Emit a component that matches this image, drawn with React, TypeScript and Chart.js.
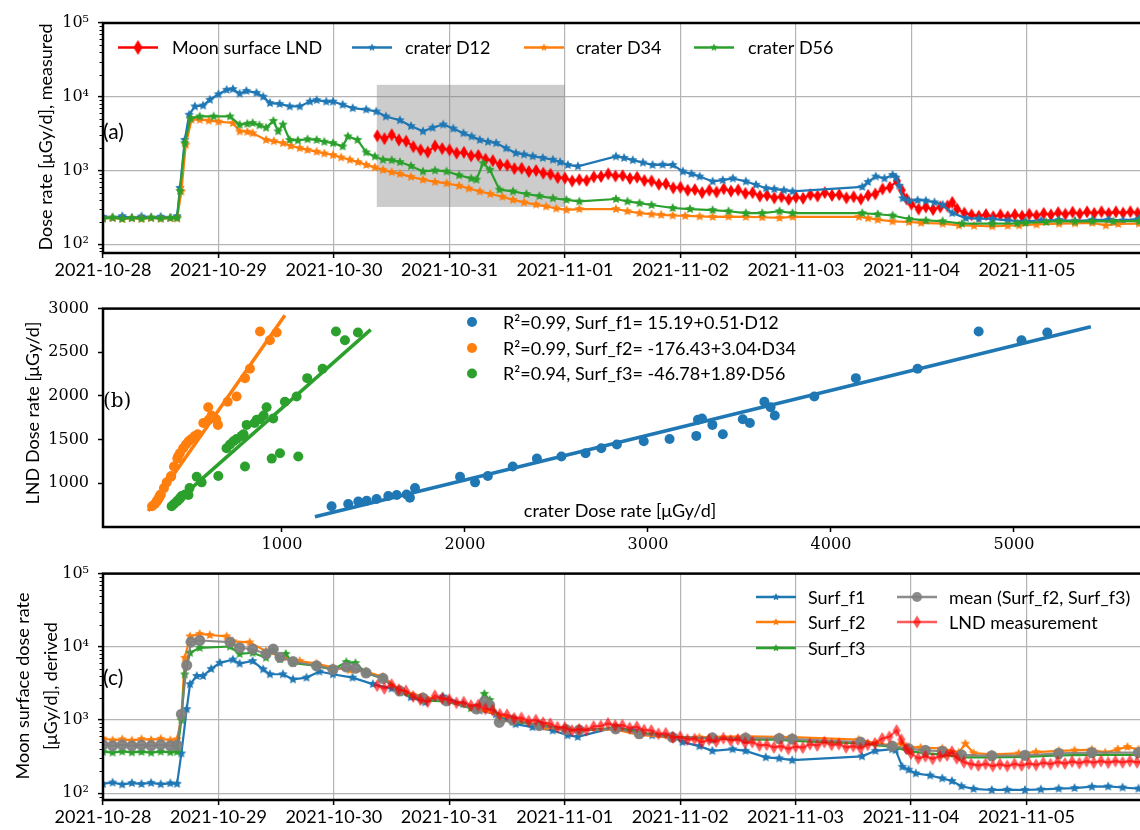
import React, { useEffect, useRef } from 'react';
import { Chart, registerables } from 'chart.js';

Chart.register(...registerables);

// ---------------- tick labels ----------------
const DATE_LABELS = ['2021-10-28', '2021-10-29', '2021-10-30', '2021-10-31', '2021-11-01', '2021-11-02', '2021-11-03', '2021-11-04', '2021-11-05'];
const DATE_TICK_HOURS = [0, 24, 48, 72, 96, 120, 144, 168, 192];
const LOG_TICKS = [100, 1000, 10000, 100000];
const LOG_TICK_LABELS = ['10²', '10³', '10⁴', '10⁵'];
const B_X_TICKS = [1000, 2000, 3000, 4000, 5000];
const B_Y_TICKS = [1000, 1500, 2000, 2500, 3000];

// ---------------- panel (a): measured dose rates [hours since 2021-10-28 00:00, µGy/d] ----------------
const LND_MEAS: [number, number][] = [
  [57, 2950], [58.5, 2700], [60, 3050], [61.5, 2600], [63, 2500], [64.5, 2100], [66, 1900], [67.5, 1780], [69, 2150], [70.5, 1980],
  [72, 1900], [73.5, 1720], [75, 1760], [76.5, 1580], [78, 1600], [79.5, 1420], [81, 1360], [82.5, 1200], [84, 1180], [85.5, 1060],
  [87, 1070], [88.5, 970], [90, 1000], [91.5, 920], [93, 890], [94.5, 800], [96, 790], [97.5, 720], [99, 750], [100.5, 730],
  [102, 820], [103.5, 830], [105, 900], [106.5, 840], [108, 850], [109.5, 780], [111, 810], [112.5, 730], [114, 720], [115.5, 650],
  [117, 660], [118.5, 580], [120, 590], [121.5, 540], [123, 550], [124.5, 500], [126, 540], [127.5, 510], [129, 565], [130.5, 525],
  [132, 545], [133.5, 490], [135, 500], [136.5, 450], [138, 460], [139.5, 425], [141, 440], [142.5, 405], [144, 435], [145.5, 420],
  [147, 470], [148.5, 450], [150, 500], [151.5, 460], [153, 470], [154.5, 425], [156, 440], [157.5, 410], [159, 460], [160.5, 480],
  [162, 560], [163.5, 590], [165, 720], [166, 540], [167, 410], [168, 350], [169.5, 300], [171, 320], [172.5, 295], [174, 320],
  [175.5, 330], [176.5, 370], [177.5, 300], [179, 265], [180.5, 250], [182, 240], [183.5, 252], [185, 236], [186.5, 250], [188, 236],
  [189.5, 252], [191, 240], [192.5, 255], [194, 244], [195.5, 262], [197, 250], [198.5, 268], [200, 255], [201.5, 272], [203, 258],
  [204.5, 275], [206, 262], [207.5, 276], [209, 262], [210.5, 275], [212, 264], [213.5, 276], [215, 265], [216.5, 274],
];
const D12_MEAS: [number, number][] = [
  [0, 235], [2, 228], [4, 240], [6, 226], [8, 238], [10, 230], [12, 236], [14, 228], [15.4, 240], [16, 580], [17, 2600], [17.9, 5700],
  [19.1, 7400], [20.8, 7600], [22.2, 9100], [24, 10800], [25.7, 12400], [27, 12700], [28.4, 11000], [29.8, 12000], [31.9, 11300],
  [33.3, 10000], [34.7, 8200], [36.7, 8000], [38.8, 7400], [40.9, 7400], [43, 8600], [44.4, 9000], [46.4, 8600], [47.8, 8600],
  [49.8, 7800], [51.9, 7000], [54.7, 6700], [56.8, 6300], [58.8, 5400], [61.7, 4800], [64, 4000], [66.5, 3400], [68.5, 3800],
  [70.7, 4200], [72.8, 3700], [74.9, 3200], [76.6, 2900], [78.3, 2600], [80, 2450], [81.7, 2350], [83.8, 2000], [85.8, 1720],
  [87.5, 1650], [89.3, 1560], [91.4, 1480], [93.5, 1400], [95, 1300], [96.6, 1190], [98.7, 1140], [106.6, 1550], [108.3, 1480],
  [110.1, 1380], [112.2, 1280], [114.2, 1190], [116.3, 1200], [118.4, 1190], [120.5, 970], [122.3, 900], [124, 830], [126.7, 710],
  [128.8, 740], [130.9, 780], [133.6, 710], [135.7, 640], [137.8, 575], [139.5, 560], [141.5, 540], [143.3, 520], [157.8, 600],
  [159, 700], [160.6, 830], [162.4, 780], [164.1, 870], [164.8, 800], [165.5, 620], [166.2, 420], [167.5, 390], [169.3, 395],
  [171, 390], [172.8, 370], [174.5, 343], [176.5, 264], [179.3, 226], [182, 222], [184.8, 220], [188, 210], [191.7, 204], [195, 210],
  [198.7, 213], [202, 208], [205.6, 213], [209, 215], [212, 210], [215.3, 220],
];
const D34_MEAS: [number, number][] = [
  [0, 222], [2, 228], [4, 220], [6, 226], [8, 221], [10, 227], [12, 222], [14, 226], [15.4, 224], [16.3, 520], [17.2, 2240],
  [18.4, 4880], [20.1, 4880], [22, 4750], [24, 4600], [27, 4400], [28.4, 3390], [30, 3350], [31.1, 3200], [33.9, 2600], [35.5, 2500],
  [37.4, 2350], [39, 2150], [40.9, 2010], [42.5, 1900], [44.4, 1800], [46, 1700], [47.8, 1620], [49.5, 1500], [51.3, 1400], [53, 1300],
  [54.7, 1190], [56.5, 1100], [58.2, 1020], [60, 950], [61.7, 900], [64, 820], [66.5, 750], [69, 700], [71.4, 670], [74, 620],
  [76, 570], [78.3, 520], [80.5, 480], [83, 440], [85.2, 400], [87.5, 370], [90, 345], [92.1, 325], [94.2, 305], [96.3, 293],
  [99, 300], [106.6, 300], [109, 280], [111.5, 264], [114, 255], [116, 250], [118.4, 245], [121, 242], [124, 238], [126.7, 235],
  [130, 237], [133.6, 235], [137, 232], [140.6, 228], [143.3, 235], [157.1, 235], [159, 225], [161, 215], [164.1, 204], [167.5, 200],
  [170, 195], [174.5, 190], [177.9, 180], [181, 178], [184.8, 175], [188, 178], [190.4, 180], [194, 185], [198.7, 190], [202, 192],
  [205.6, 195], [208.4, 180], [211, 188], [215.3, 190],
];
const D56_MEAS: [number, number][] = [
  [0, 224], [2, 230], [4, 221], [6, 228], [8, 222], [10, 229], [12, 223], [14, 228], [15.4, 226], [16, 530], [17, 2350], [18.2, 5100],
  [20.1, 5400], [23, 5400], [26.4, 5400], [28.4, 4170], [30, 4300], [31.1, 4400], [32.5, 4100], [33.9, 3800], [35.4, 4700],
  [36.4, 3400], [37.4, 4200], [38.8, 2600], [40.5, 2550], [42.5, 2650], [44.4, 2600], [46, 2450], [47.8, 2350], [49.8, 2120],
  [50.9, 2900], [52.9, 2600], [54.7, 1760], [56.5, 1550], [58.2, 1400], [60, 1380], [61.7, 1300], [64, 1150], [66.5, 970], [69, 1000],
  [71.4, 970], [74, 860], [76.5, 780], [77.6, 750], [79, 1260], [80.4, 1020], [82.4, 550], [85.2, 520], [88, 480], [90.7, 450],
  [93.5, 420], [96.3, 400], [99, 380], [106.6, 410], [109, 380], [111.5, 360], [114, 340], [118.4, 310], [122, 300], [126.7, 290],
  [130, 280], [133.6, 264], [137, 264], [140.6, 280], [143.3, 264], [157.8, 264], [161, 255], [164.1, 245], [167.5, 220], [171, 210],
  [174.5, 205], [178.5, 190], [184.8, 190], [190, 192], [191.7, 195], [196, 200], [198.7, 205], [202, 203], [205.6, 205], [210, 204],
  [215.3, 205],
];
const BOX_HOURS = [56.9, 96];
const BOX_DOSE = [320, 14500];

// ---------------- panel (b): LND vs crater samples ----------------
const LND_SAMPLES = [738, 763, 792, 800, 821, 854, 866, 873, 836, 945, 1076, 1011, 1084, 1192, 1283, 1308, 1344, 1402, 1445, 1481, 1507, 1543, 1727, 1741, 1669, 1561, 1734, 1691, 1933, 1871, 1777, 1994, 2204, 2312, 2738, 2637, 2727];
const D12_SAMPLES = [1271, 1362, 1417, 1463, 1517, 1581, 1627, 1681, 1699, 1727, 1973, 2055, 2125, 2261, 2393, 2527, 2659, 2745, 2830, 2977, 3118, 3264, 3273, 3295, 3352, 3409, 3518, 3557, 3636, 3670, 3693, 3909, 4136, 4473, 4807, 5041, 5182];
const D34_SAMPLES = [290, 305, 315, 318, 325, 333, 335, 338, 328, 355, 393, 370, 395, 410, 428, 432, 442, 460, 475, 490, 505, 525, 600, 610, 650, 540, 640, 570, 703, 597, 615, 752, 798, 825, 880, 934, 971];
const D56_SAMPLES = [397, 410, 425, 430, 440, 452, 489, 470, 445, 495, 534, 561, 652, 798, 944, 1089, 989, 697, 716, 735, 752, 780, 862, 952, 807, 790, 880, 850, 1016, 916, 900, 1080, 1138, 1222, 1295, 1344, 1415];
const FIT1_X = [1180, 5420];
const FIT1_Y = [617, 2792];
const FIT2_X = [269, 1016];
const FIT2_Y = [683, 2923];
const FIT3_X = [388, 1485];
const FIT3_Y = [727, 2760];
const FIT_LABELS = [
  'R²=0.99, Surf_f1= 15.19+0.51·D12',
  'R²=0.99, Surf_f2= -176.43+3.04·D34',
  'R²=0.94, Surf_f3= -46.78+1.89·D56',
];

// ---------------- panel (c): derived surface dose rates ----------------
const SURF_F1: [number, number][] = [
  [0, 135], [2, 140], [4, 132], [6, 138], [8, 134], [10, 139], [12, 133], [14, 137], [15.4, 135], [16.3, 350], [17.4, 1410],
  [18.1, 3090], [19.5, 4000], [20.8, 4000], [22.5, 5000], [24.3, 6050], [27, 6700], [28.4, 5900], [31.1, 6400], [33.3, 4940],
  [34.7, 4220], [37.4, 4220], [39.5, 3600], [42.3, 3800], [45, 4600], [47.8, 4220], [51.9, 3800], [56.1, 3100], [60, 2700],
  [64, 2050], [67, 1750], [70.7, 2100], [74.9, 1650], [78.3, 1350], [81.7, 1200], [85.8, 880], [89.3, 800], [93.5, 720], [96.6, 620],
  [98.7, 590], [106.6, 800], [110.1, 720], [114.2, 620], [118.4, 610], [120.5, 500], [124, 440], [126.7, 380], [130.9, 400],
  [133.6, 380], [137.8, 310], [140.6, 300], [143.3, 283], [157.8, 320], [160.6, 380], [164.1, 400], [164.8, 390], [166.2, 230],
  [167.5, 210], [169, 187], [172, 175], [174.5, 160], [176.5, 147], [178.5, 125], [181, 115], [184.8, 111], [188, 112], [191.7, 111],
  [195, 113], [198.7, 116], [202, 118], [205.6, 123], [209, 124], [212, 120], [215.3, 116],
];
const SURF_F2: [number, number][] = [
  [0, 560], [2, 530], [4, 545], [6, 525], [8, 550], [10, 535], [12, 555], [14, 530], [15.4, 545], [16.3, 1100], [17, 7080],
  [18.1, 13900], [20.1, 15000], [22.2, 14500], [25.7, 13900], [27, 11900], [30.5, 11500], [33.9, 8700], [37.4, 7200], [40.9, 6400],
  [44.4, 5900], [47.8, 5200], [51.3, 4800], [54.7, 4600], [58.2, 3900], [61.7, 2600], [66.5, 2100], [71.4, 1860], [78.3, 1400],
  [85.2, 1040], [92.1, 810], [96.3, 715], [99, 740], [106.6, 740], [111.5, 625], [118.4, 570], [124, 580], [126.7, 590],
  [133.6, 600], [140.6, 590], [143.3, 585], [157.1, 540], [161, 480], [164.1, 452], [166, 475], [167.5, 430], [170, 420],
  [174.5, 410], [177.9, 360], [179.3, 475], [181, 355], [184.8, 340], [190.4, 350], [194, 365], [198.7, 380], [202, 385],
  [205.6, 395], [208.4, 360], [211, 400], [213, 430], [215.3, 395],
];
const SURF_F3: [number, number][] = [
  [0, 370], [2, 360], [4, 372], [6, 362], [8, 368], [10, 359], [12, 371], [14, 363], [15.4, 368], [16.3, 1000], [17, 4200],
  [18.1, 8300], [20.1, 9700], [26.4, 10100], [28.4, 8000], [31.1, 8300], [33.9, 7100], [35.4, 9000], [36.8, 6800], [38, 8000],
  [39.5, 6000], [44.4, 5500], [47.8, 4900], [50.6, 6200], [52.5, 6000], [54.7, 4400], [58.2, 3700], [61.7, 2400], [66.5, 1850],
  [71.4, 1800], [76.5, 1450], [77.6, 1400], [79.3, 2280], [80.4, 1880], [82.4, 1000], [85.2, 950], [90.7, 860], [96.3, 760],
  [99, 720], [106.6, 780], [111.5, 680], [118.4, 590], [126.7, 560], [133.6, 540], [140.6, 540], [143.3, 520], [157.8, 480],
  [164.1, 430], [167.5, 380], [171, 350], [174.5, 340], [178.5, 310], [184.8, 310], [191.7, 315], [198.7, 330], [205.6, 335],
  [215.3, 335],
];
const SURF_MEAN: [number, number][] = [
  [0, 460], [2, 445], [4, 458], [6, 444], [8, 455], [10, 447], [12, 459], [14, 446], [15.4, 452], [16.3, 1200], [17.4, 5600],
  [18.3, 11600], [20.1, 12200], [26.4, 11600], [28.4, 9700], [31.1, 9300], [33.9, 8000], [35.4, 9300], [36.8, 7200], [39.5, 6300],
  [44.4, 5500], [47.8, 4900], [50.6, 5300], [52.5, 5100], [54.7, 4400], [58.2, 3700], [61.7, 2500], [66.5, 2000], [71.4, 1830],
  [77.6, 1420], [79.3, 1800], [80.4, 1600], [82.4, 930], [85.2, 1000], [90.7, 840], [96.3, 740], [99, 730], [106.6, 760],
  [111.5, 650], [118.4, 580], [126.7, 570], [133.6, 565], [140.6, 560], [143.3, 550], [157.5, 500], [164.1, 440], [167.5, 405],
  [171, 385], [174.5, 375], [178.5, 335], [184.8, 325], [191.7, 330], [198.7, 350], [205.6, 360], [215.3, 360],
];

// ---------------- style ----------------
const SANS = 'Lato, "DejaVu Sans", sans-serif';
const SERIF = '"DejaVu Serif", serif';
const BLUE = '#1f77b4';
const ORANGE = '#ff7f0e';
const GREEN = '#2ca02c';
const RED = '#ff0000';
const RED_A = 'rgba(255,0,0,0.65)';
const GRAY = 'rgba(128,128,128,0.9)';
const GRID = '#b4b4b4';

function starMarker(color: string, r: number) {
  const s = Math.ceil(r) * 2 + 2;
  const c = document.createElement('canvas');
  c.width = s; c.height = s;
  const g = c.getContext('2d')!;
  g.fillStyle = color;
  g.beginPath();
  for (let i = 0; i < 10; i++) {
    const ang = -Math.PI / 2 + (i * Math.PI) / 5;
    const rr = i % 2 === 0 ? r : r * 0.48;
    g.lineTo(s / 2 + rr * Math.cos(ang), s / 2 + rr * Math.sin(ang));
  }
  g.closePath();
  g.fill();
  return c;
}

function diamondMarker(color: string, w: number, h: number) {
  const cw = Math.ceil(w) + 2, ch = Math.ceil(h) + 2;
  const c = document.createElement('canvas');
  c.width = cw; c.height = ch;
  const g = c.getContext('2d')!;
  g.fillStyle = color;
  g.beginPath();
  g.moveTo(cw / 2, ch / 2 - h / 2);
  g.lineTo(cw / 2 + w / 2, ch / 2);
  g.lineTo(cw / 2, ch / 2 + h / 2);
  g.lineTo(cw / 2 - w / 2, ch / 2);
  g.closePath();
  g.fill();
  return c;
}

const toXY = (arr: [number, number][]) => arr.map(([x, y]) => ({ x, y }));

function lineSet(label: string, arr: [number, number][], color: string, marker: any, order: number, extra: any = {}) {
  return {
    label,
    data: toXY(arr),
    borderColor: color,
    backgroundColor: color,
    borderWidth: 2.2,
    pointStyle: marker,
    pointRadius: 4,
    tension: 0,
    order,
    ...extra,
  };
}

function dateXScale(height: number) {
  return {
    type: 'linear',
    min: 0,
    max: 216.3,
    afterBuildTicks: (s: any) => { s.ticks = DATE_TICK_HOURS.map((v) => ({ value: v })); },
    afterFit: (s: any) => { s.height = height; },
    ticks: {
      autoSkip: false,
      maxRotation: 0,
      padding: 1,
      color: '#000',
      font: { family: SANS, size: 18 },
      callback: (v: number) => { const i = DATE_TICK_HOURS.indexOf(v); return i >= 0 ? DATE_LABELS[i] : ''; },
    },
    grid: { color: GRID, lineWidth: 1.2, tickColor: '#000', tickLength: 5, tickWidth: 1.5 },
    border: { display: false },
  };
}

function logYScale(min: number) {
  return {
    type: 'logarithmic',
    min,
    max: 100000,
    afterBuildTicks: (s: any) => { s.ticks = LOG_TICKS.map((v) => ({ value: v, major: true })); },
    afterFit: (s: any) => { s.width = 103; },
    ticks: {
      autoSkip: false,
      padding: 9,
      color: '#000',
      font: { family: SERIF, size: 16 },
      callback: (v: number) => { const i = LOG_TICKS.indexOf(v); return i >= 0 ? LOG_TICK_LABELS[i] : ''; },
    },
    grid: { color: GRID, lineWidth: 1.2, tickColor: '#000', tickLength: 5, tickWidth: 1.5 },
    border: { display: false },
  };
}

function decorPlugin(opt: any) {
  return {
    id: 'decor',
    beforeDatasetsDraw(chart: any) {
      if (!opt.box) return;
      const { ctx, scales } = chart;
      const x0 = scales.x.getPixelForValue(opt.box.x[0]);
      const x1 = scales.x.getPixelForValue(opt.box.x[1]);
      const y0 = scales.y.getPixelForValue(opt.box.y[1]);
      const y1 = scales.y.getPixelForValue(opt.box.y[0]);
      ctx.save();
      ctx.fillStyle = 'rgba(128,128,128,0.4)';
      ctx.fillRect(x0, y0, x1 - x0, y1 - y0);
      ctx.restore();
    },
    afterDraw(chart: any) {
      const { ctx, chartArea: a, scales } = chart;
      ctx.save();
      if (opt.logMinor) {
        const y = scales.y;
        ctx.strokeStyle = '#000';
        ctx.lineWidth = 1;
        for (let d = 10; d < 100000; d *= 10) {
          for (let k = 2; k <= 9; k++) {
            const v = d * k;
            if (v < y.min || v > y.max) continue;
            const py = Math.round(y.getPixelForValue(v)) + 0.5;
            ctx.beginPath();
            ctx.moveTo(a.left - 3.5, py);
            ctx.lineTo(a.left, py);
            ctx.stroke();
          }
        }
      }
      ctx.strokeStyle = '#000';
      ctx.lineWidth = 2.5;
      ctx.strokeRect(a.left, a.top, a.right - a.left, a.bottom - a.top);

      ctx.fillStyle = '#000';
      ctx.textAlign = 'center';
      ctx.textBaseline = 'middle';
      ctx.font = `18px ${SANS}`;
      opt.yTitle.lines.forEach((t: string, i: number) => {
        ctx.save();
        ctx.translate(opt.yTitle.x[i], opt.yTitle.y);
        ctx.rotate(-Math.PI / 2);
        ctx.fillText(t, 0, 0);
        ctx.restore();
      });
      if (opt.xInside) {
        ctx.font = `18px ${SANS}`;
        ctx.fillText(opt.xInside.text, opt.xInside.x, opt.xInside.y);
      }
      ctx.font = opt.panel.font;
      ctx.textAlign = 'left';
      ctx.fillText(opt.panel.text, opt.panel.x, opt.panel.y);

      ctx.font = `18px ${SANS}`;
      opt.legend.forEach((it: any) => {
        const cx = it.sx + 20;
        if (it.line) {
          ctx.strokeStyle = it.color;
          ctx.lineWidth = 2.5;
          ctx.beginPath();
          ctx.moveTo(it.sx, it.y);
          ctx.lineTo(it.sx + 40, it.y);
          ctx.stroke();
        }
        if (it.circle) {
          ctx.fillStyle = it.color;
          ctx.beginPath();
          ctx.arc(cx, it.y, it.circle, 0, Math.PI * 2);
          ctx.fill();
        } else if (it.marker) {
          ctx.drawImage(it.marker, cx - it.marker.width / 2, it.y - it.marker.height / 2);
        }
        ctx.fillStyle = '#000';
        ctx.textAlign = 'left';
        ctx.fillText(it.label, it.tx, it.y + 1);
      });
      ctx.restore();
    },
  };
}

const W = 1150;
const H_A = 290, H_B = 265, H_C = 275;
const TOP_B = 290, TOP_C = 555;

export default function App() {
  const refA = useRef<HTMLCanvasElement>(null);
  const refB = useRef<HTMLCanvasElement>(null);
  const refC = useRef<HTMLCanvasElement>(null);

  useEffect(() => {
    const starB = starMarker(BLUE, 5), starO = starMarker(ORANGE, 5), starG = starMarker(GREEN, 5);
    const legB = starMarker(BLUE, 4), legO = starMarker(ORANGE, 4), legG = starMarker(GREEN, 4);
    const dRed = diamondMarker(RED, 8, 13), dRedA = diamondMarker(RED_A, 8, 13);
    const dRedLeg = diamondMarker(RED, 9, 15), dRedALeg = diamondMarker(RED_A, 8, 13);

    const common = { animation: false, responsive: false, maintainAspectRatio: false, events: [] as any[] };

    const chartA = new Chart(refA.current!, {
      type: 'line',
      data: {
        datasets: [
          lineSet('Moon surface LND', LND_MEAS, RED, dRed, 4),
          lineSet('crater D12', D12_MEAS, BLUE, starB, 3),
          lineSet('crater D34', D34_MEAS, ORANGE, starO, 2),
          lineSet('crater D56', D56_MEAS, GREEN, starG, 1),
        ] as any,
      },
      options: {
        ...common,
        layout: { padding: { top: 23, right: 5, left: 0, bottom: 0 } },
        plugins: { legend: { display: false }, tooltip: { enabled: false } },
        scales: { x: dateXScale(H_A - 253), y: logYScale(76) } as any,
      } as any,
      plugins: [decorPlugin({
        logMinor: true,
        box: { x: BOX_HOURS, y: BOX_DOSE },
        yTitle: { lines: ['Dose rate [μGy/d], measured'], x: [46], y: 137 },
        panel: { text: '(a)', x: 103, y: 132, font: `21px ${SANS}` },
        legend: [
          { label: 'Moon surface LND', color: RED, marker: dRedLeg, sx: 118, tx: 172, y: 47.5, line: true },
          { label: 'crater D12', color: BLUE, marker: legB, sx: 352, tx: 405, y: 47.5, line: true },
          { label: 'crater D34', color: ORANGE, marker: legO, sx: 524, tx: 576, y: 47.5, line: true },
          { label: 'crater D56', color: GREEN, marker: legG, sx: 694, tx: 748, y: 47.5, line: true },
        ],
      })],
    } as any);

    const pts = (xs: number[]) => xs.map((x, i) => ({ x, y: LND_SAMPLES[i] }));
    const fit = (xs: number[], ys: number[]) => xs.map((x, i) => ({ x, y: ys[i] }));
    const chartB = new Chart(refB.current!, {
      type: 'scatter',
      data: {
        datasets: [
          { label: FIT_LABELS[0], data: pts(D12_SAMPLES), backgroundColor: BLUE, borderColor: BLUE, pointRadius: 5, borderWidth: 0, order: 6 },
          { label: FIT_LABELS[1], data: pts(D34_SAMPLES), backgroundColor: ORANGE, borderColor: ORANGE, pointRadius: 5, borderWidth: 0, order: 5 },
          { label: FIT_LABELS[2], data: pts(D56_SAMPLES), backgroundColor: GREEN, borderColor: GREEN, pointRadius: 5, borderWidth: 0, order: 4 },
          { label: 'fit1', data: fit(FIT1_X, FIT1_Y), showLine: true, borderColor: BLUE, borderWidth: 3.5, pointRadius: 0, order: 3 },
          { label: 'fit2', data: fit(FIT2_X, FIT2_Y), showLine: true, borderColor: ORANGE, borderWidth: 3.5, pointRadius: 0, order: 2 },
          { label: 'fit3', data: fit(FIT3_X, FIT3_Y), showLine: true, borderColor: GREEN, borderWidth: 3.5, pointRadius: 0, order: 1 },
        ] as any,
      },
      options: {
        ...common,
        layout: { padding: { top: 298 - TOP_B, right: 5, left: 0, bottom: 0 } },
        plugins: { legend: { display: false }, tooltip: { enabled: false } },
        scales: {
          x: {
            type: 'linear', min: 22, max: 5716,
            afterBuildTicks: (s: any) => { s.ticks = B_X_TICKS.map((v) => ({ value: v })); },
            afterFit: (s: any) => { s.height = H_B - (527 - TOP_B); },
            ticks: { autoSkip: false, maxRotation: 0, padding: 3, color: '#000', font: { family: SERIF, size: 16 }, callback: (v: number) => String(v) },
            grid: { drawOnChartArea: false, tickColor: '#000', tickLength: 5, tickWidth: 1.5 },
            border: { display: false },
          },
          y: {
            type: 'linear', min: 500, max: 3000,
            afterBuildTicks: (s: any) => { s.ticks = B_Y_TICKS.map((v) => ({ value: v })); },
            afterFit: (s: any) => { s.width = 103; },
            ticks: { autoSkip: false, padding: 9, color: '#000', font: { family: SERIF, size: 16 }, callback: (v: number) => String(v) },
            grid: { drawOnChartArea: false, tickColor: '#000', tickLength: 5, tickWidth: 1.5 },
            border: { display: false },
          },
        } as any,
      } as any,
      plugins: [decorPlugin({
        yTitle: { lines: ['LND Dose rate [μGy/d]'], x: [33], y: 413 - TOP_B },
        xInside: { text: 'crater Dose rate [μGy/d]', x: 620, y: 511 - TOP_B },
        panel: { text: '(b)', x: 103, y: 402 - TOP_B, font: `20px ${SERIF}` },
        legend: [
          { label: FIT_LABELS[0], color: BLUE, circle: 5, sx: 452, tx: 503, y: 322 - TOP_B },
          { label: FIT_LABELS[1], color: ORANGE, circle: 5, sx: 452, tx: 503, y: 348 - TOP_B },
          { label: FIT_LABELS[2], color: GREEN, circle: 5, sx: 452, tx: 503, y: 373.5 - TOP_B },
        ],
      })],
    } as any);

    const chartC = new Chart(refC.current!, {
      type: 'line',
      data: {
        datasets: [
          lineSet('Surf_f1', SURF_F1, BLUE, starB, 5),
          lineSet('Surf_f2', SURF_F2, ORANGE, starO, 4),
          lineSet('Surf_f3', SURF_F3, GREEN, starG, 3),
          lineSet('mean (Surf_f2, Surf_f3)', SURF_MEAN, GRAY, 'circle', 2, { pointRadius: 4.5 }),
          lineSet('LND measurement', LND_MEAS, RED_A, dRedA, 1),
        ] as any,
      },
      options: {
        ...common,
        layout: { padding: { top: 572 - TOP_C, right: 5, left: 0, bottom: 0 } },
        plugins: { legend: { display: false }, tooltip: { enabled: false } },
        scales: { x: dateXScale(H_C - (800 - TOP_C)), y: logYScale(81) } as any,
      } as any,
      plugins: [decorPlugin({
        logMinor: true,
        yTitle: { lines: ['Moon surface dose rate', '[μGy/d], derived'], x: [23, 51], y: 686 - TOP_C },
        panel: { text: '(c)', x: 103, y: 678 - TOP_C, font: `21px ${SANS}` },
        legend: [
          { label: 'Surf_f1', color: BLUE, marker: legB, sx: 756, tx: 808, y: 597 - TOP_C, line: true },
          { label: 'Surf_f2', color: ORANGE, marker: legO, sx: 756, tx: 808, y: 622 - TOP_C, line: true },
          { label: 'Surf_f3', color: GREEN, marker: legG, sx: 756, tx: 808, y: 648 - TOP_C, line: true },
          { label: 'mean (Surf_f2, Surf_f3)', color: GRAY, circle: 5, sx: 897, tx: 949, y: 597 - TOP_C, line: true },
          { label: 'LND measurement', color: RED_A, marker: dRedALeg, sx: 897, tx: 949, y: 622 - TOP_C, line: true },
        ],
      })],
    } as any);

    return () => { chartA.destroy(); chartB.destroy(); chartC.destroy(); };
  }, []);

  const cs = (top: number, h: number): React.CSSProperties => ({ position: 'absolute', left: 0, top, width: W, height: h, display: 'block' });
  return (
    <div style={{ position: 'absolute', left: 0, top: 0, width: 1140, height: 830, overflow: 'hidden', background: '#fff' }}>
      <canvas ref={refA} width={W} height={H_A} style={cs(0, H_A)} />
      <canvas ref={refB} width={W} height={H_B} style={cs(TOP_B, H_B)} />
      <canvas ref={refC} width={W} height={H_C} style={cs(TOP_C, H_C)} />
    </div>
  );
}
